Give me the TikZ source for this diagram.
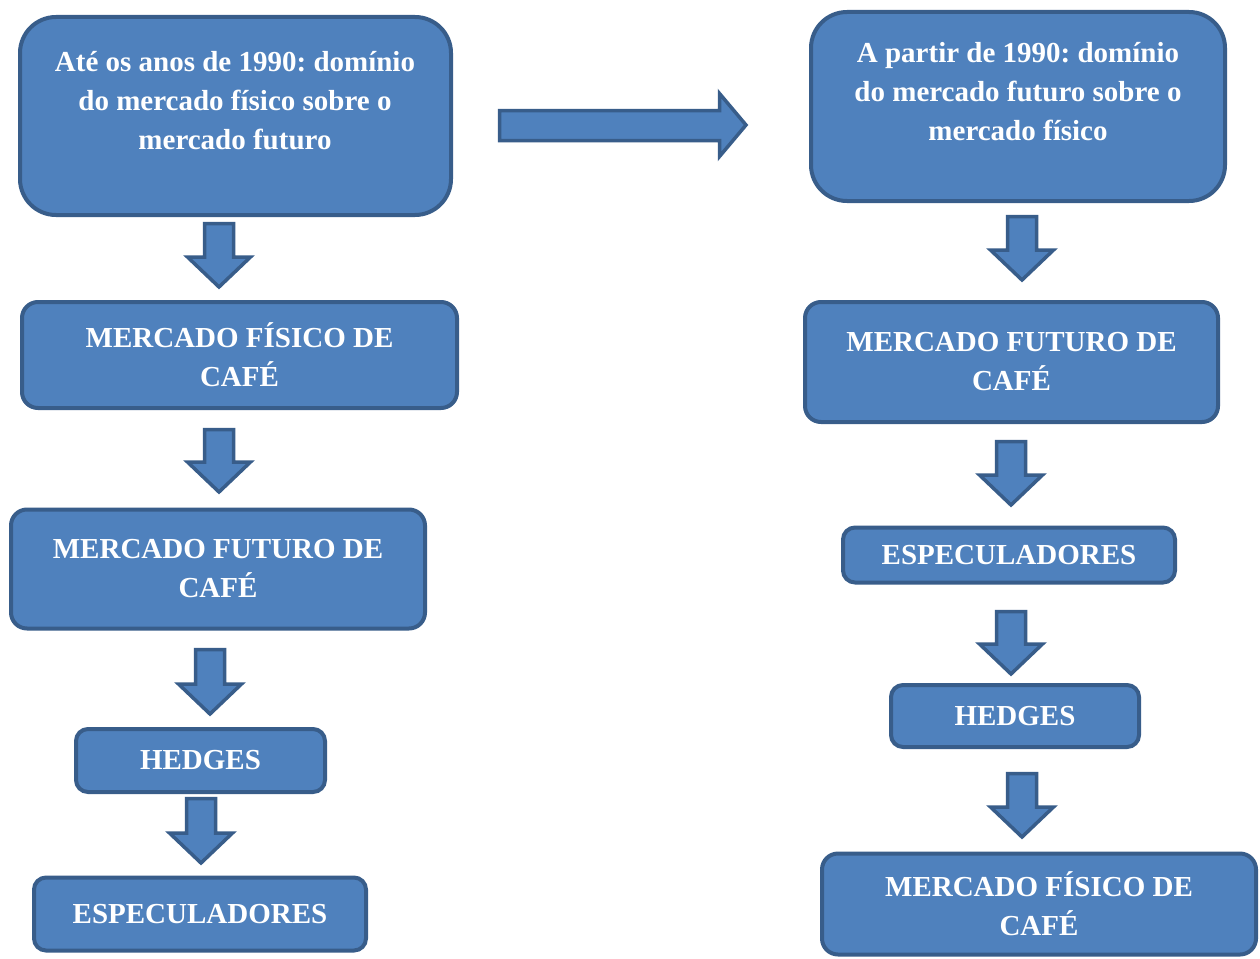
\documentclass[tikz,border=0pt]{standalone}
\usepackage{fontspec}
\setmainfont{Liberation Serif}
\frenchspacing
\definecolor{boxfill}{HTML}{4F81BD}
\definecolor{boxline}{HTML}{385D8A}
\tikzset{
  txt/.style={text=white, font=\bfseries\fontsize{29}{39}\selectfont, align=center, inner sep=0pt},
  box/.style={txt, draw=boxline, fill=boxfill, line width=4pt, rounded corners=16pt},
  bigbox/.style={box, rounded corners=36pt},
  barrow/.style={draw=boxline, fill=boxfill, line width=3.5pt, line join=miter},
}
\newcommand{\darrow}[3]{%
  \draw[barrow] (#1-14.5,#2+1.5) -- (#1+14.5,#2+1.5) -- (#1+14.5,#3-33) -- (#1+31.5,#3-33)
    -- (#1,#3-3) -- (#1-31.5,#3-33) -- (#1-14.5,#3-33) -- cycle;}
\begin{document}
\begin{tikzpicture}[x=1pt,y=-1pt]
\useasboundingbox[fill=white] (0,0) rectangle (1260,958);
% left column
\node[bigbox, minimum width=431, minimum height=198] (L1) at (235.5,116) {};
\node[txt] (L1t) at (235,101) {Até os anos de 1990: domínio\\do mercado físico sobre o\\mercado futuro};
\node[box, minimum width=435, minimum height=106] (L2) at (239.5,355) {MERCADO FÍSICO DE\\CAFÉ};
\node[box, minimum width=414, minimum height=119] (L3) at (218,569) {MERCADO FUTURO DE\\CAFÉ};
\node[box, minimum width=249, minimum height=63, rounded corners=12pt] (L4) at (200.5,760.5) {HEDGES};
\node[box, minimum width=332, minimum height=73, rounded corners=12pt] (L5) at (200,914) {ESPECULADORES};
% right column
\node[bigbox, minimum width=414, minimum height=189] (R1) at (1018,106.5) {};
\node[txt] (R1t) at (1018,91.5) {A partir de 1990: domínio\\do mercado futuro sobre o\\mercado físico};
\node[box, minimum width=413, minimum height=120] (R2) at (1011.5,362) {MERCADO FUTURO DE\\CAFÉ};
\node[box, minimum width=332, minimum height=55, rounded corners=12pt] (R3) at (1009,555) {ESPECULADORES};
\node[box, minimum width=248, minimum height=62, rounded corners=12pt] (R4) at (1015,716) {HEDGES};
\node[box, minimum width=434, minimum height=101] (R5) at (1039,904) {MERCADO FÍSICO DE\\CAFÉ};
% block arrows
\darrow{219}{222}{290}
\darrow{219}{428}{495}
\darrow{210}{648}{717}
\darrow{201}{797}{866}
\darrow{1022}{215}{283}
\darrow{1011}{440}{508}
\darrow{1011}{610}{677}
\darrow{1022}{772}{840}
\draw[barrow] (499.5,110.5) -- (719.5,110.5) -- (719.5,93.5) -- (746,125) -- (719.5,156.5)
  -- (719.5,140.5) -- (499.5,140.5) -- cycle;
\end{tikzpicture}
\end{document}
